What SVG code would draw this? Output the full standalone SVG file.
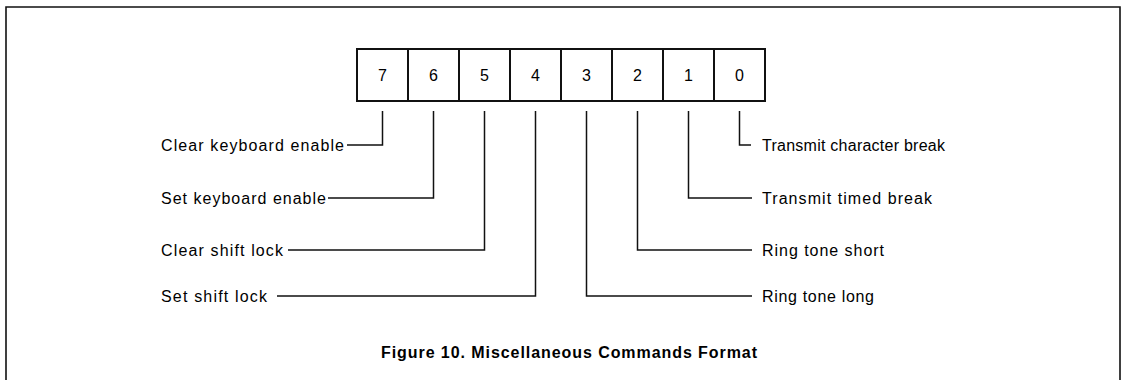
<svg xmlns="http://www.w3.org/2000/svg" width="1125" height="380" viewBox="0 0 1125 380">
<style>
.frame{fill:none;stroke:#111;stroke-width:1.6}
.cell{fill:#fff;stroke:#111;stroke-width:2}
.ln{fill:none;stroke:#111;stroke-width:1.5}
.d{font-family:"Liberation Sans",Arial,sans-serif;font-size:16px;fill:#000;text-anchor:middle}
.t{font-family:"Liberation Sans",Arial,sans-serif;font-size:16px;fill:#000}
.title{font-family:"Liberation Sans",Arial,sans-serif;font-size:16px;font-weight:bold;fill:#000}
</style>
<rect width="1125" height="380" fill="#fff"/>
<path class="frame" d="M6,381 V7 H1120 V381"/>
<g id="register">
<rect class="cell" x="357" y="49" width="408" height="52"/>
<path class="ln" style="stroke-width:2" d="M408,49 V101 M459,49 V101 M510,49 V101 M561,49 V101 M612,49 V101 M663,49 V101 M714,49 V101"/>
<text class="d" x="382.5" y="81">7</text>
<text class="d" x="433.5" y="81">6</text>
<text class="d" x="484.5" y="81">5</text>
<text class="d" x="535.5" y="81">4</text>
<text class="d" x="586.5" y="81">3</text>
<text class="d" x="637.5" y="81">2</text>
<text class="d" x="688.5" y="81">1</text>
<text class="d" x="739.5" y="81">0</text>
</g>
<g id="connectors">
<path class="ln" d="M347,145 H382.5 V111"/>
<path class="ln" d="M328,198 H433.5 V111"/>
<path class="ln" d="M288,250 H484.5 V111"/>
<path class="ln" d="M277,296 H535.5 V111"/>
<path class="ln" d="M586.5,111 V296 H752"/>
<path class="ln" d="M637.5,111 V250 H752"/>
<path class="ln" d="M688.5,111 V198 H752"/>
<path class="ln" d="M739.5,111 V145 H751"/>
</g>
<g id="label-b7"><text class="t" x="161" y="151" textLength="183" lengthAdjust="spacing">Clear keyboard enable</text></g>
<g id="label-b6"><text class="t" x="161" y="204" textLength="165" lengthAdjust="spacing">Set keyboard enable</text></g>
<g id="label-b5"><text class="t" x="161" y="256" textLength="122" lengthAdjust="spacing">Clear shift lock</text></g>
<g id="label-b4"><text class="t" x="161" y="302" textLength="106" lengthAdjust="spacing">Set shift lock</text></g>
<g id="label-b0"><text class="t" x="762" y="151" textLength="183" lengthAdjust="spacing">Transmit character break</text></g>
<g id="label-b1"><text class="t" x="762" y="204" textLength="170" lengthAdjust="spacing">Transmit timed break</text></g>
<g id="label-b2"><text class="t" x="762" y="256" textLength="122" lengthAdjust="spacing">Ring tone short</text></g>
<g id="label-b3"><text class="t" x="762" y="302" textLength="112" lengthAdjust="spacing">Ring tone long</text></g>
<g id="caption"><text class="title" x="381" y="358" textLength="376" lengthAdjust="spacing">Figure 10. Miscellaneous Commands Format</text></g>
</svg>
